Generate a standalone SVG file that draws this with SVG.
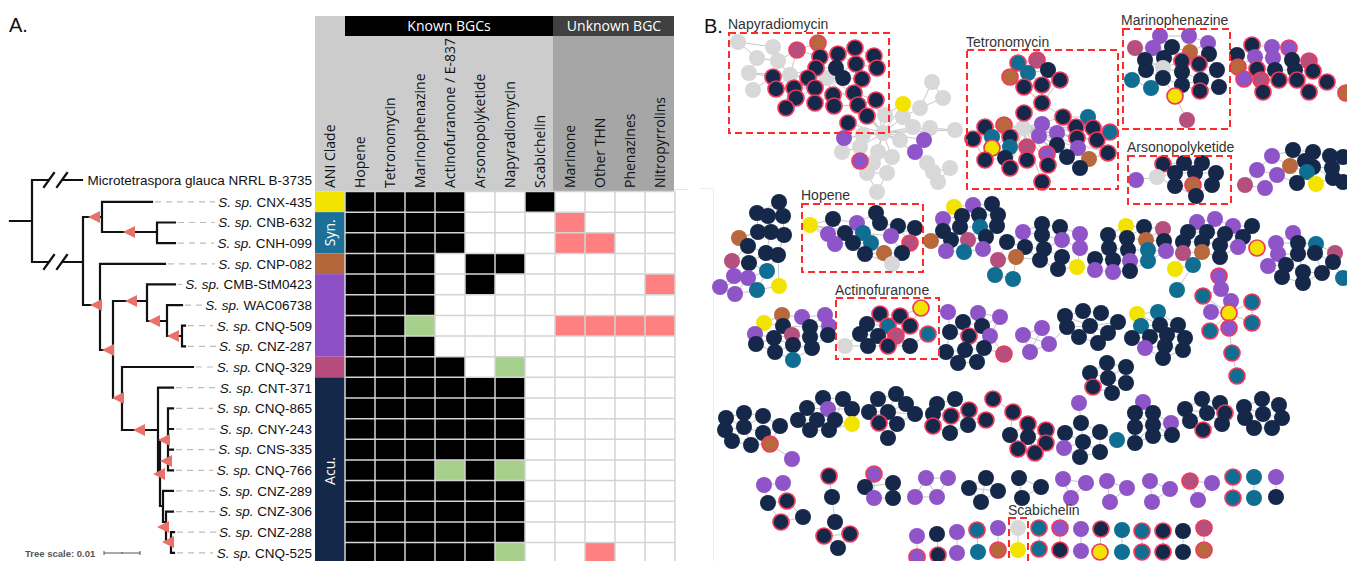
<svg xmlns="http://www.w3.org/2000/svg" xmlns:xlink="http://www.w3.org/1999/xlink" width="1347" height="561" viewBox="0 0 1347 561">
<style>
.tl{fill:none;stroke:#111;stroke-width:2.2;stroke-linecap:square}
.ds{fill:none;stroke:#bdbdbd;stroke-width:1.2;stroke-dasharray:6 5}
.lb{font-family:"Liberation Sans",Arial,sans-serif;font-size:13.5px;fill:#111}
.hd{font-family:"Open Sans","Liberation Sans",sans-serif;font-size:14px;fill:#111}
.hw{font-family:"Open Sans","Liberation Sans",sans-serif;font-size:14px;fill:#fff}
.pl{font-family:"Liberation Sans",Arial,sans-serif;font-size:20px;fill:#111}
.bl{font-family:"Liberation Sans",Arial,sans-serif;font-size:14px;fill:#333}
.box{fill:none;stroke:#ff2a2a;stroke-width:2;stroke-dasharray:7 4}
.ed{fill:none;stroke:#c6c6c6;stroke-width:1}
.tri{fill:#e8726b}
.N{fill:#15284a}.P{fill:#8f55c8}.T{fill:#0f6e92}.Y{fill:#f3e400}.B{fill:#b8683c}.M{fill:#b54f7e}.G{fill:#d8d8d8}
.r{stroke:#ef3b5d;stroke-width:1.7}
</style>
<defs>
<path id="tri" d="M0,0 L12,-6 L12,6 Z"/>
</defs>
<rect width="1347" height="561" fill="#fff"/>

<g id="panelA-label"><text class="pl" x="9" y="32">A.</text></g>

<g id="header">
<rect x="315" y="16" width="238" height="175.5" fill="#cccccc"/>
<rect x="553" y="16" width="121" height="175.5" fill="#a6a6a6"/>
<rect x="345" y="16" width="208" height="20" fill="#000"/>
<rect x="553" y="16" width="121" height="20" fill="#404040"/>
<text class="hw" x="449" y="31" text-anchor="middle">Known BGCs</text>
<text class="hw" x="614" y="31" text-anchor="middle">Unknown BGC</text>
<g class="hd">
<text transform="translate(335,188) rotate(-90)">ANI Clade</text>
<text transform="translate(365,188) rotate(-90)">Hopene</text>
<text transform="translate(395,188) rotate(-90)">Tetronomycin</text>
<text transform="translate(425,188) rotate(-90)">Marinophenazine</text>
<text transform="translate(455,188) rotate(-90)">Actinofuranone / E-837</text>
<text transform="translate(485,188) rotate(-90)">Arsonopolyketide</text>
<text transform="translate(515,188) rotate(-90)">Napyradiomycin</text>
<text transform="translate(545,188) rotate(-90)">Scabichelin</text>
<text transform="translate(575,188) rotate(-90)">Marinone</text>
<text transform="translate(605,188) rotate(-90)">Other THN</text>
<text transform="translate(635,188) rotate(-90)">Phenazines</text>
<text transform="translate(665,188) rotate(-90)">Nitropyrrolins</text>
</g>
<line x1="674" y1="189.5" x2="688" y2="189.5" stroke="#e4e4e4" stroke-width="1"/>
</g>

<g id="clades">
<rect x="315" y="191.5" width="30" height="20.65" fill="#f2e400"/>
<rect x="315" y="212.15" width="30" height="41.3" fill="#1c6f96"/>
<rect x="315" y="253.45" width="30" height="20.65" fill="#b5663a"/>
<rect x="315" y="274.1" width="30" height="82.6" fill="#8c50c4"/>
<rect x="315" y="356.7" width="30" height="20.65" fill="#b54c7b"/>
<rect x="315" y="377.35" width="30" height="186" fill="#14294a"/>
<text class="hw" transform="translate(335,232.8) rotate(-90)" text-anchor="middle">Syn.</text>
<text class="hw" transform="translate(335,471) rotate(-90)" text-anchor="middle">Acu.</text>
</g>

<g id="grid">
<rect x="345" y="191.5" width="330" height="372" fill="#fff"/>
<g fill="#000">
<rect x="345" y="191.5" width="120" height="61.95"/>
<rect x="525" y="191.5" width="30" height="20.65"/>
<rect x="345" y="253.45" width="90" height="61.95"/>
<rect x="465" y="253.45" width="60" height="20.65"/>
<rect x="465" y="274.1" width="30" height="20.65"/>
<rect x="345" y="315.4" width="60" height="20.65"/>
<rect x="345" y="336.05" width="90" height="20.65"/>
<rect x="345" y="356.7" width="120" height="20.65"/>
<rect x="345" y="377.35" width="180" height="82.6"/>
<rect x="345" y="459.95" width="90" height="20.65"/>
<rect x="465" y="459.95" width="30" height="20.65"/>
<rect x="345" y="480.6" width="180" height="61.95"/>
<rect x="345" y="542.55" width="150" height="20.65"/>
</g>
<g fill="#a7d08c">
<rect x="405" y="315.4" width="30" height="20.65"/>
<rect x="495" y="356.7" width="30" height="20.65"/>
<rect x="435" y="459.95" width="30" height="20.65"/>
<rect x="495" y="459.95" width="30" height="20.65"/>
<rect x="495" y="542.55" width="30" height="20.65"/>
</g>
<g fill="#ff8080">
<rect x="555" y="212.15" width="30" height="20.65"/>
<rect x="555" y="232.8" width="60" height="20.65"/>
<rect x="645" y="274.1" width="30" height="20.65"/>
<rect x="555" y="315.4" width="120" height="20.65"/>
<rect x="585" y="542.55" width="30" height="20.65"/>
</g>
<path fill="none" stroke="#d4d4d4" stroke-width="1.5" d="M345,191.5V563M375,191.5V563M405,191.5V563M435,191.5V563M465,191.5V563M495,191.5V563M525,191.5V563M555,191.5V563M585,191.5V563M615,191.5V563M645,191.5V563M675,191.5V563
M345,191.5H675M345,212.15H675M345,232.8H675M345,253.45H675M345,274.1H675M345,294.75H675M345,315.4H675M345,336.05H675M345,356.7H675M345,377.35H675M345,398H675M345,418.65H675M345,439.3H675M345,459.95H675M345,480.6H675M345,501.25H675M345,521.9H675M345,542.55H675"/>
</g>

<g id="tree">
<path class="tl" d="M10,221H32M32,180V262M32,180H49M62,180H82M32,262H49M62,262H83
M44,187L54,173M57,187L67,173M44,269L54,255M57,269L67,255
M83,217V305M83,217H102M102,201.8V232M102,201.8H152M102,232H157M157,222.5V243.1M157,222.5H175M157,243.1H175
M83,305H100M100,263.8V350M100,263.8H165M100,350H113M113,301V398M113,301H147M147,284.4V321M147,284.4H175M147,321H167M167,305.1V336M167,305.1H182M167,336H182M182,325.7V346.4M182,325.7H185M182,346.4H185
M113,398H122M122,367V430M122,367H193M122,430H158M158,387.7V473M158,387.7H173M158,473H160M160,440V506M160,440H168M168,408.3V470.3M168,408.3H173M168,429H173M168,449.6H173M168,470.3H173
M160,506H163M163,490.9V522M163,490.9H173M163,522H166M166,511.6V542M166,511.6H173M166,542H171M171,532.2V552.9M171,532.2H174M171,552.9H174"/>
<g class="tri">
<use xlink:href="#tri" x="88" y="217"/>
<use xlink:href="#tri" x="123" y="232"/>
<use xlink:href="#tri" x="90" y="305"/>
<use xlink:href="#tri" x="102" y="350"/>
<use xlink:href="#tri" x="125" y="301"/>
<use xlink:href="#tri" x="148" y="321"/>
<use xlink:href="#tri" x="167" y="336"/>
<use xlink:href="#tri" x="112" y="398"/>
<use xlink:href="#tri" x="133" y="430"/>
<use xlink:href="#tri" x="158" y="440"/>
<use xlink:href="#tri" x="160" y="461"/>
<use xlink:href="#tri" x="153" y="474"/>
<use xlink:href="#tri" x="157" y="527"/>
<use xlink:href="#tri" x="162" y="542"/>
</g>
<path class="ds" d="M155,201.8H215M178,222.5H215M178,243.1H214M168,263.8H215M178,284.4H182M185,305.1H202M188,325.7H213M188,346.4H216M196,367H213M176,387.7H216M176,408.3H213M176,429H215M176,449.6H215M176,470.3H213M176,490.9H216M176,511.6H216M177,532.2H216M177,552.9H213"/>
<g class="lb" text-anchor="end">
<text x="312" y="184.8">Microtetraspora glauca NRRL B-3735</text>
<text x="312" y="206.6"><tspan font-style="italic">S. sp.</tspan> CNX-435</text>
<text x="312" y="227.3"><tspan font-style="italic">S. sp.</tspan> CNB-632</text>
<text x="312" y="247.9"><tspan font-style="italic">S. sp.</tspan> CNH-099</text>
<text x="312" y="268.6"><tspan font-style="italic">S. sp.</tspan> CNP-082</text>
<text x="312" y="289.2"><tspan font-style="italic">S. sp.</tspan> CMB-StM0423</text>
<text x="312" y="309.9"><tspan font-style="italic">S. sp.</tspan> WAC06738</text>
<text x="312" y="330.5"><tspan font-style="italic">S. sp.</tspan> CNQ-509</text>
<text x="312" y="351.2"><tspan font-style="italic">S. sp.</tspan> CNZ-287</text>
<text x="312" y="371.8"><tspan font-style="italic">S. sp.</tspan> CNQ-329</text>
<text x="312" y="392.5"><tspan font-style="italic">S. sp.</tspan> CNT-371</text>
<text x="312" y="413.1"><tspan font-style="italic">S. sp.</tspan> CNQ-865</text>
<text x="312" y="433.8"><tspan font-style="italic">S. sp.</tspan> CNY-243</text>
<text x="312" y="454.4"><tspan font-style="italic">S. sp.</tspan> CNS-335</text>
<text x="312" y="475.1"><tspan font-style="italic">S. sp.</tspan> CNQ-766</text>
<text x="312" y="495.7"><tspan font-style="italic">S. sp.</tspan> CNZ-289</text>
<text x="312" y="516.4"><tspan font-style="italic">S. sp.</tspan> CNZ-306</text>
<text x="312" y="537"><tspan font-style="italic">S. sp.</tspan> CNZ-288</text>
<text x="312" y="557.7"><tspan font-style="italic">S. sp.</tspan> CNQ-525</text>
</g>
<text x="25" y="556.5" font-family="Liberation Sans, Arial, sans-serif" font-size="9.5" font-weight="bold" fill="#555">Tree scale: 0.01</text>
<path d="M104,553H140M104,551V555M140,551V555M122,552V554" stroke="#555" stroke-width="1" fill="none"/>
</g>

<g id="panelB-label"><text class="pl" x="704" y="33">B.</text></g>
<path d="M700,188.5H713.5V561" fill="none" stroke="#ececec" stroke-width="1"/>

<g id="connectors">
<path class="ed" d="M738,42L757,58L778,61L773,47L738,42M757,58L749,73L773,77M753,90L773,77M778,61L797,50L818,43L820,57L797,50M790,75L773,77M790,75L776,89M790,75L794,88M790,75L808,78M790,75L816,68M790,75L778,61M790,75L797,50M790,75L749,73M790,75L786,108M790,75L796,98M827,78L816,68M827,78L836,68M827,78L843,78M827,78L808,78M827,78L815,88M827,78L833,95M827,78L820,57M827,78L838,54M827,78L856,64M827,78L862,79M827,78L854,93M827,78L815,103M827,78L794,88M827,78L834,106M838,54L855,48L874,56L877,68L856,64L838,54M856,64L862,79L877,68M862,79L854,93L876,100L858,105L854,93M833,95L854,93M815,103L833,95L834,106L858,105M796,98L815,88M786,108L796,98M808,78L820,57M816,68L836,68M843,78L862,79M855,48L856,64M874,56L856,64M776,89L794,88L808,78L815,88L794,88M773,77L776,89M815,103L815,88"/>
<path class="ed" d="M883,133L885,115M883,133L903,117M883,133L903,104M883,133L913,127M883,133L930,128M883,133L900,140M883,133L907,143M883,133L863,135M883,133L860,147M883,133L844,138M883,133L878,152M883,133L892,157M883,133L873,163M883,133L915,152M883,133L924,140M883,133L867,116M883,133L848,123M883,133L858,105M883,133L876,100M883,133L827,78M883,133L843,78M883,133L955,130M903,117L920,108L932,82L943,98L920,108M930,128L955,130M842,152L860,147M842,152L844,138M873,163L867,173L887,173L877,192L867,173M892,157L887,173M915,152L927,163L933,172L950,168L938,182L933,172M860,161L873,163M860,161L860,147M885,115L903,104"/>
<path class="ed" d="M1023,128L1024,113M1023,128L1042,124M1023,128L1039,136M1023,128L1057,133M1023,128L1063,117M1023,128L1076,127M1023,128L1093,128M1023,128L1077,138M1023,128L1097,140M1023,128L1110,132M1023,128L1057,145M1023,128L1078,148M1023,128L1047,154M1023,128L1067,157M1023,128L1089,159M1023,128L1080,168M1023,128L1108,153M1023,128L1048,165M1023,128L1042,182M1023,128L1027,160M1023,128L1010,168M1023,128L1005,158M1023,128L985,160M1023,128L1010,147M1023,128L1010,137M1023,128L992,137M1023,128L985,127M1023,128L1004,125M1023,128L973,139M1023,128L992,148M1023,128L1027,147
M1018,63L1037,60L1048,70L1060,80L1042,85L1024,87L1010,77L1018,63L1028,73L1048,70M1028,73L1042,85M1028,73L1024,87M1037,60L1028,73M1042,85L1042,103L1024,113M1042,103L1063,117M1042,103L1024,87M1060,80L1042,103M1063,117L1088,117L1076,127L1093,128L1110,132L1097,140L1077,138L1078,148L1089,159L1108,153M1057,133L1077,138M1057,145L1067,157L1080,168M1088,117L1110,132M985,127L1004,125L992,137L973,139L985,160L1005,158L1010,168"/>
<path class="ed" d="M1160,36L1189,36L1208,43L1209,54L1217,70L1219,87L1200,91L1201,80L1182,85L1163,78L1146,70L1145,60L1135,48L1153,48L1160,36L1172,47L1164,58L1182,61L1199,64L1209,54M1153,48L1164,58L1146,70M1172,47L1190,52L1189,36M1190,52L1182,61L1182,72L1163,68L1145,60M1199,64L1217,70L1201,80L1182,72M1163,68L1163,78M1132,80L1151,88L1163,78M1132,80L1146,70M1175,96L1163,78M1175,96L1187,120M1175,96L1182,85M1200,91L1182,85M1208,43L1190,52M1160,36L1163,68L1182,61"/>
<path class="ed" d="M1252,45L1272,47L1289,48L1292,60L1309,61L1313,71L1327,82L1346,93M1237,55L1252,45L1255,57L1273,58L1272,47M1237,55L1238,67L1257,69L1275,70L1295,70L1313,71M1255,57L1257,69L1244,79L1261,80L1279,80L1297,80L1309,92M1273,58L1275,70L1261,80L1263,92L1279,80M1292,60L1295,70L1279,80M1289,48L1273,58M1238,67L1244,79M1297,80L1313,71M1309,61L1295,70M1255,57L1238,67M1327,82L1309,92"/>
<path class="ed" d="M1136,180L1157,177L1163,164L1184,163L1202,163L1216,173L1212,185L1196,196L1175,186L1157,177L1175,173L1195,173L1216,173M1163,164L1175,173L1184,163L1195,173L1202,163M1175,173L1175,186L1193,185L1195,173L1212,185M1193,185L1196,196"/>
<path class="ed" d="M1245,185L1257,170L1272,156L1293,150L1313,152L1330,156L1343,157M1245,185L1265,188L1277,175L1257,170M1272,156L1290,166L1305,161L1293,150M1277,175L1290,166L1313,167L1332,168L1343,182M1305,161L1313,152M1297,183L1307,172L1316,184L1333,178L1343,157M1277,175L1297,183M1290,166L1307,172L1313,167M1330,156L1332,168L1333,178M1313,167L1333,178"/>
<path class="ed" d="M779,202L757,213L783,216L768,216L779,202M757,213L758,232L771,232L784,235L783,216M768,216L771,232M758,232L739,238L748,246L766,253L778,255L784,235M771,232L766,253M748,246L732,261L749,263L767,271L778,255M749,263L766,253M732,261L734,276L748,278L749,263M734,276L720,287L735,294L748,278L767,271M735,294L757,290L779,286L778,255M757,290L767,271M720,287L748,278M739,238L758,232"/>
<path class="ed" d="M810,225L833,219L857,223L876,213L880,223L898,226L915,228L910,243L902,253L884,253L865,254L853,243L835,244L828,234L810,225M810,225L845,233L863,233L891,236L915,228M833,219L845,233L853,243L871,243L884,253M857,223L863,233L871,243M880,223L891,236L902,253M898,226L910,243M828,234L845,233M865,254L871,243M892,264L884,253M892,264L865,254M810,225L863,233M810,225L835,244"/>
<path class="ed" d="M954,207L973,205L992,204L998,215L997,226L986,237L983,249L964,252L946,251L931,241L943,231L943,219L954,207M962,216L979,215L998,215M954,207L962,216L960,227L951,240L946,251M973,205L979,215L980,227L968,240L964,252M992,204L979,215M943,219L962,216M943,231L960,227L980,227L997,226M951,240L968,240L986,237M980,227L986,237M960,227L968,240"/>
<path class="ed" d="M1023,232L1042,224L1060,227L1080,234L1080,248L1077,267L1058,269L1040,260L1025,247L1007,242L1023,232L1042,235L1062,240L1080,248M1042,224L1042,235L1044,249L1062,257L1058,269M1060,227L1062,240L1062,257L1077,267M1025,247L1044,249L1040,260M1007,242L998,260L1016,257L1025,247M998,260L995,275L1013,279L1016,257M1040,260L1016,257M1062,240L1044,249"/>
<path class="ed" d="M1126,226L1144,227L1163,229L1164,241L1166,251L1148,261L1130,271L1113,272L1095,270L1095,259L1109,248L1108,235L1126,226M1108,235L1127,238L1146,240L1164,241M1144,227L1127,238L1128,250L1109,248M1163,229L1146,240L1148,250L1166,251M1128,250L1148,250L1148,261M1095,259L1113,260L1130,261L1148,261M1113,260L1128,250L1130,261M1113,272L1113,260M1130,271L1130,261M1126,226L1127,238"/>
<path class="ed" d="M1197,222L1215,219L1233,226L1252,226L1243,237L1238,247L1220,257L1202,252L1183,253L1183,242L1188,232L1197,222M1188,232L1207,232L1225,234L1243,237M1197,222L1207,232L1202,242L1183,242M1215,219L1225,234L1220,245L1202,242M1233,226L1225,234M1220,245L1238,247M1202,242L1202,252L1220,257L1220,245M1175,269L1183,253M1175,269L1193,265L1202,252M1193,265L1177,290M1207,232L1220,245"/>
<path class="ed" d="M1293,233L1276,243L1278,254L1268,266L1282,277L1303,283L1322,273L1333,262L1343,278M1293,233L1298,243L1316,244L1335,253L1333,262M1276,243L1298,243L1298,254L1315,253L1316,244M1278,254L1298,254L1286,265L1268,266M1286,265L1303,272L1322,273L1315,253M1282,277L1286,265M1303,272L1303,283M1298,254L1303,272M1315,253L1333,262"/>
<path class="ed" d="M1219,276L1221,289L1203,296M1221,289L1231,301L1229,313M1203,296L1211,312L1229,313L1252,302L1252,323L1229,313L1210,331L1229,328L1229,313M1203,296L1229,313M1229,328L1232,353L1237,376"/>
<path class="ed" d="M764,323L782,315L802,317L825,315L829,326L828,335L812,348L793,360L775,352L756,344L755,334L764,323M764,323L783,326L810,327L829,326M782,315L783,326L774,338L756,344M802,317L810,327L810,337L812,348M825,315L810,327M755,334L774,338L792,335L810,337L828,335M783,326L792,335L793,345L775,352M774,338L793,345L812,348M793,345L793,360"/>
<path class="ed" d="M921,308L900,316L880,314L867,324L860,334L845,346L868,346L888,346L910,346L928,334L910,326L921,308M880,314L888,326L900,316L910,326M867,324L888,326L878,336L860,334M888,326L896,336L910,326M878,336L896,336L910,346M868,346L878,336L888,346L896,336M928,334L910,346"/>
<path class="ed" d="M948,312L963,322L978,313L1000,317L990,336L1004,354L984,348L977,362L958,363L946,352L950,332L948,312M963,322L982,326L978,313M950,332L969,336L963,322M982,326L990,336L984,348L969,336L965,350L946,352M965,350L958,363M965,350L984,348M1000,317L982,326M977,362L965,350"/>
<path class="ed" d="M1023,335L1042,328L1049,344L1030,352L1023,335L1049,344M1042,328L1030,352M1049,344L1067,327"/>
<path class="ed" d="M1065,316L1083,311L1101,313L1118,322L1108,333L1098,343L1079,337L1067,327L1065,316M1067,327L1090,326L1101,313M1083,311L1090,326L1108,333M1079,337L1090,326L1098,343M1065,316L1090,326L1118,322"/>
<path class="ed" d="M1137,314L1158,312L1178,325L1185,338L1183,350L1163,358L1145,348L1132,338L1141,326L1137,314M1141,326L1160,325L1158,312M1160,325L1178,325M1132,338L1150,337L1167,335L1185,338M1141,326L1150,337L1145,348L1165,346L1183,350M1160,325L1167,335L1165,346L1163,358M1150,337L1165,346M1137,314L1160,325"/>
<path class="ed" d="M1107,363L1126,367L1126,383L1112,393L1093,387L1090,373L1107,363L1108,378L1126,367M1090,373L1108,378L1126,383M1108,378L1112,393M1108,378L1093,387"/>
<path class="ed" d="M726,418L744,413L763,416L780,426L770,444L751,445L732,441L725,430L726,418M725,430L744,427L763,433L780,426M744,413L744,427L751,445M763,416L763,433L770,444M726,418L744,427L763,416M732,441L744,427M763,433L751,445M770,444L792,459"/>
<path class="ed" d="M823,398L843,399L852,409L852,424L829,430L810,430L798,420L807,408L823,398M807,408L828,409L852,409M798,420L817,420L835,420L852,424M823,398L828,409L817,420L810,430M843,399L835,420L829,430M828,409L835,420M817,420L829,430"/>
<path class="ed" d="M878,399L896,394L906,404L915,414L897,424L888,438L879,423L869,412L878,399M869,412L888,412L906,404M878,399L888,412L897,424M896,394L888,412L879,423M915,414L888,412M879,423L897,424"/>
<path class="ed" d="M937,404L955,399L969,410L986,420L968,425L950,433L933,426L933,414L937,404M933,414L951,416L969,410M937,404L951,416L950,433M955,399L951,416L968,425M933,426L951,416L986,420M969,410L968,425"/>
<path class="ed" d="M993,399L1013,412L1028,424L1046,430L1046,443L1035,453L1018,449L1010,435L1013,412M1010,435L1028,424L1028,437L1046,430M1028,437L1018,449M1028,437L1035,453M1028,437L1046,443M1010,435L1028,437"/>
<path class="ed" d="M1079,403L1081,423L1065,433L1064,448L1080,457L1100,452L1100,432L1081,423M1065,433L1083,442L1100,432L1117,440M1081,423L1083,442L1080,457M1064,448L1083,442L1100,452"/>
<path class="ed" d="M1143,402L1135,413L1153,413L1143,402M1135,413L1135,427L1135,443L1153,436L1172,435L1171,423L1153,413L1153,425L1135,427M1153,425L1153,436M1153,425L1171,423M1135,413L1153,425L1172,435M1135,443L1153,425"/>
<path class="ed" d="M1202,399L1220,403L1225,413L1222,424L1203,430L1190,421L1185,409L1202,399M1185,409L1207,413L1225,413M1202,399L1207,413L1203,430M1220,403L1207,413L1190,421M1207,413L1222,424"/>
<path class="ed" d="M1262,399L1279,405L1282,418L1272,428L1254,428L1245,418L1244,407L1262,399M1244,407L1263,414L1279,405M1262,399L1263,414L1272,428M1245,418L1263,414L1282,418M1254,428L1263,414"/>
<path class="ed" d="M764,485L783,483L787,501L768,503L764,485M787,501L803,517L781,522L768,503M829,476L832,497L835,522L824,536L838,548L850,534L835,522M824,536L850,534M874,474L865,487L874,498L893,498L893,483L874,474L874,498M865,487L893,483M926,478L948,478L937,497L915,497L926,478L937,497M986,478L969,488L981,502L998,491L986,478L981,502M969,488L998,491M1019,478L1041,487L1022,498L1019,478M1063,479L1086,483L1071,498L1063,479M1107,481L1127,488L1110,502L1107,481M1150,481L1170,489L1152,502L1150,481M1190,481L1212,483L1198,500L1190,481M1233,477V498M1254,477V498M1276,477V497"/>
<path class="ed" d="M917,536V557M937,534L938,555M957,532V553M977,530L978,552M998,528V550M1018,528V550M1039,528V549M1060,528V550M1081,529V551M1101,529L1100,552M1122,530V552M1142,531V552M1163,531V552M1183,531V552M1204,528V550"/>
</g>

<g id="cluster-napyradiomycin">
<circle cx="738" cy="42" r="8" class="G"/><circle cx="773" cy="47" r="8" class="G"/><circle cx="757" cy="58" r="8" class="G"/><circle cx="778" cy="61" r="8" class="G"/><circle cx="749" cy="73" r="8" class="G"/><circle cx="753" cy="90" r="8" class="G"/><circle cx="790" cy="75" r="8" class="G"/><circle cx="827" cy="78" r="8" class="G"/>
<circle cx="797" cy="50" r="8" class="M r"/><circle cx="818" cy="43" r="8" class="B r"/>
<circle cx="820" cy="57" r="8" class="N r"/><circle cx="838" cy="54" r="8" class="N r"/><circle cx="855" cy="48" r="8" class="N r"/><circle cx="874" cy="56" r="8" class="N r"/><circle cx="877" cy="68" r="8" class="N r"/><circle cx="856" cy="64" r="8" class="N r"/><circle cx="816" cy="68" r="8" class="N r"/><circle cx="773" cy="77" r="8" class="N r"/><circle cx="776" cy="89" r="8" class="N r"/><circle cx="794" cy="88" r="8" class="N r"/><circle cx="808" cy="78" r="8" class="N r"/><circle cx="815" cy="88" r="8" class="N r"/><circle cx="796" cy="98" r="8" class="N r"/><circle cx="786" cy="108" r="8" class="N r"/><circle cx="815" cy="103" r="8" class="N r"/><circle cx="833" cy="95" r="8" class="N r"/><circle cx="834" cy="106" r="8" class="N r"/><circle cx="854" cy="93" r="8" class="N r"/><circle cx="858" cy="105" r="8" class="N r"/><circle cx="862" cy="79" r="8" class="N r"/><circle cx="876" cy="100" r="8" class="N r"/><circle cx="867" cy="116" r="8" class="N r"/><circle cx="848" cy="123" r="8" class="N r"/>
<circle cx="836" cy="68" r="8" class="N"/><circle cx="843" cy="78" r="8" class="N"/>
</g>
<g id="cluster-hub">
<circle cx="883" cy="133" r="8" class="G"/><circle cx="885" cy="115" r="8" class="G"/><circle cx="903" cy="117" r="8" class="G"/><circle cx="920" cy="108" r="8" class="G"/><circle cx="932" cy="82" r="8" class="G"/><circle cx="943" cy="98" r="8" class="G"/><circle cx="930" cy="128" r="8" class="G"/><circle cx="955" cy="130" r="8" class="G"/><circle cx="913" cy="127" r="8" class="G"/><circle cx="863" cy="135" r="8" class="G"/><circle cx="860" cy="147" r="8" class="G"/><circle cx="842" cy="152" r="8" class="G"/><circle cx="878" cy="152" r="8" class="G"/><circle cx="892" cy="157" r="8" class="G"/><circle cx="873" cy="163" r="8" class="G"/><circle cx="867" cy="173" r="8" class="G"/><circle cx="887" cy="173" r="8" class="G"/><circle cx="877" cy="192" r="8" class="G"/><circle cx="927" cy="163" r="8" class="G"/><circle cx="933" cy="172" r="8" class="G"/><circle cx="950" cy="168" r="8" class="G"/><circle cx="938" cy="182" r="8" class="G"/><circle cx="900" cy="140" r="8" class="G"/>
<circle cx="844" cy="138" r="8" class="P"/><circle cx="924" cy="140" r="8" class="P"/><circle cx="915" cy="152" r="8" class="P"/><circle cx="860" cy="161" r="8" class="P r"/>
<circle cx="903" cy="104" r="8" class="Y"/>
</g>
<g id="cluster-tetronomycin">
<circle cx="1018" cy="63" r="8" class="T r"/><circle cx="1037" cy="60" r="8" class="M r"/><circle cx="1028" cy="73" r="8" class="T"/><circle cx="1048" cy="70" r="8" class="N"/><circle cx="1060" cy="80" r="8" class="N r"/><circle cx="1010" cy="77" r="8" class="B r"/><circle cx="1024" cy="87" r="8" class="N r"/><circle cx="1042" cy="85" r="8" class="N r"/><circle cx="1042" cy="103" r="8" class="N r"/>
<circle cx="1023" cy="128" r="8" class="G"/>
<circle cx="1024" cy="113" r="8" class="N r"/><circle cx="1063" cy="117" r="8" class="N r"/><circle cx="1088" cy="117" r="8" class="T"/><circle cx="1042" cy="124" r="8" class="P"/><circle cx="1076" cy="127" r="8" class="N r"/><circle cx="1093" cy="128" r="8" class="N r"/><circle cx="1039" cy="136" r="8" class="P"/><circle cx="1057" cy="133" r="8" class="P"/><circle cx="1077" cy="138" r="8" class="N r"/><circle cx="1097" cy="140" r="8" class="N r"/><circle cx="1110" cy="132" r="8" class="T r"/><circle cx="1057" cy="145" r="8" class="N"/><circle cx="1078" cy="148" r="8" class="P"/><circle cx="1027" cy="147" r="8" class="M r"/><circle cx="1047" cy="154" r="8" class="P r"/><circle cx="1067" cy="157" r="8" class="N"/><circle cx="1089" cy="159" r="8" class="B"/><circle cx="1027" cy="160" r="8" class="N r"/><circle cx="1048" cy="165" r="8" class="N r"/><circle cx="1108" cy="153" r="8" class="N r"/><circle cx="1080" cy="168" r="8" class="N"/><circle cx="1042" cy="182" r="8" class="N r"/>
<circle cx="985" cy="127" r="8" class="N r"/><circle cx="1004" cy="125" r="8" class="B r"/><circle cx="973" cy="139" r="8" class="N r"/><circle cx="992" cy="137" r="8" class="T"/><circle cx="1010" cy="137" r="8" class="N r"/><circle cx="992" cy="148" r="8" class="Y r"/><circle cx="1010" cy="147" r="8" class="T"/><circle cx="985" cy="160" r="8" class="N r"/><circle cx="1005" cy="158" r="8" class="N"/><circle cx="1010" cy="168" r="8" class="N r"/>
</g>
<g id="cluster-marinophenazine">
<circle cx="1160" cy="36" r="8" class="P"/><circle cx="1189" cy="36" r="8" class="P"/><circle cx="1135" cy="48" r="8" class="M"/><circle cx="1153" cy="48" r="8" class="P"/><circle cx="1172" cy="47" r="8" class="N"/><circle cx="1208" cy="43" r="8" class="P"/><circle cx="1190" cy="52" r="8" class="B"/><circle cx="1209" cy="54" r="8" class="N"/><circle cx="1145" cy="60" r="8" class="N"/><circle cx="1164" cy="58" r="8" class="N"/><circle cx="1182" cy="61" r="8" class="N r"/><circle cx="1199" cy="64" r="8" class="N r"/><circle cx="1146" cy="70" r="8" class="N"/><circle cx="1163" cy="68" r="8" class="G"/><circle cx="1182" cy="72" r="8" class="N"/><circle cx="1217" cy="70" r="8" class="N"/><circle cx="1163" cy="78" r="8" class="N"/><circle cx="1201" cy="80" r="8" class="N"/><circle cx="1132" cy="80" r="8" class="T"/><circle cx="1182" cy="85" r="8" class="N"/><circle cx="1200" cy="91" r="8" class="N r"/><circle cx="1219" cy="87" r="8" class="N"/><circle cx="1151" cy="88" r="8" class="T"/><circle cx="1175" cy="96" r="8" class="Y r"/><circle cx="1187" cy="120" r="8" class="M"/>
</g>
<g id="cluster-rt">
<circle cx="1252" cy="45" r="8" class="N r"/><circle cx="1272" cy="47" r="8" class="P"/><circle cx="1289" cy="48" r="8" class="P r"/><circle cx="1237" cy="55" r="8" class="N"/><circle cx="1255" cy="57" r="8" class="P"/><circle cx="1273" cy="58" r="8" class="P"/><circle cx="1292" cy="60" r="8" class="N"/><circle cx="1309" cy="61" r="8" class="M r"/><circle cx="1238" cy="67" r="8" class="B r"/><circle cx="1257" cy="69" r="8" class="N r"/><circle cx="1275" cy="70" r="8" class="N"/><circle cx="1295" cy="70" r="8" class="N"/><circle cx="1313" cy="71" r="8" class="N r"/><circle cx="1244" cy="79" r="8" class="P r"/><circle cx="1261" cy="80" r="8" class="M r"/><circle cx="1279" cy="80" r="8" class="N r"/><circle cx="1297" cy="80" r="8" class="N r"/><circle cx="1327" cy="82" r="8" class="N r"/><circle cx="1263" cy="92" r="8" class="N r"/><circle cx="1309" cy="92" r="8" class="N r"/><circle cx="1346" cy="93" r="8" class="B r"/>
</g>
<g id="cluster-arsonopolyketide">
<circle cx="1163" cy="164" r="8" class="N r"/><circle cx="1184" cy="163" r="8" class="N"/><circle cx="1202" cy="163" r="8" class="N"/><circle cx="1136" cy="180" r="8" class="P"/><circle cx="1157" cy="177" r="8" class="G"/><circle cx="1175" cy="173" r="8" class="N"/><circle cx="1195" cy="173" r="8" class="N"/><circle cx="1216" cy="173" r="8" class="N"/><circle cx="1175" cy="186" r="8" class="N"/><circle cx="1193" cy="185" r="8" class="B r"/><circle cx="1212" cy="185" r="8" class="N"/><circle cx="1196" cy="196" r="8" class="N"/>
</g>
<g id="cluster-rm">
<circle cx="1293" cy="150" r="8" class="N"/><circle cx="1313" cy="152" r="8" class="N"/><circle cx="1272" cy="156" r="8" class="P"/><circle cx="1330" cy="156" r="8" class="N"/><circle cx="1305" cy="161" r="8" class="N"/><circle cx="1343" cy="157" r="8" class="N"/><circle cx="1257" cy="170" r="8" class="P"/><circle cx="1290" cy="166" r="8" class="B"/><circle cx="1313" cy="167" r="8" class="N"/><circle cx="1332" cy="168" r="8" class="N"/><circle cx="1277" cy="175" r="8" class="P"/><circle cx="1307" cy="172" r="8" class="T"/><circle cx="1297" cy="183" r="8" class="N"/><circle cx="1316" cy="184" r="8" class="Y"/><circle cx="1333" cy="178" r="8" class="N"/><circle cx="1245" cy="185" r="8" class="M"/><circle cx="1265" cy="188" r="8" class="P"/><circle cx="1343" cy="182" r="8" class="N"/>
</g>
<g id="cluster-l1">
<circle cx="779" cy="202" r="8" class="N"/><circle cx="757" cy="213" r="8" class="N"/><circle cx="768" cy="216" r="8" class="N"/><circle cx="783" cy="216" r="8" class="N"/><circle cx="758" cy="232" r="8" class="N"/><circle cx="771" cy="232" r="8" class="N"/><circle cx="784" cy="235" r="8" class="N"/><circle cx="739" cy="238" r="8" class="B"/><circle cx="748" cy="246" r="8" class="N"/><circle cx="766" cy="253" r="8" class="N"/><circle cx="778" cy="255" r="8" class="N"/><circle cx="732" cy="261" r="8" class="M"/><circle cx="749" cy="263" r="8" class="N"/><circle cx="767" cy="271" r="8" class="T"/><circle cx="734" cy="276" r="8" class="P"/><circle cx="748" cy="278" r="8" class="P"/><circle cx="779" cy="286" r="8" class="Y"/><circle cx="720" cy="287" r="8" class="P"/><circle cx="735" cy="294" r="8" class="P"/><circle cx="757" cy="290" r="8" class="T"/>
</g>
<g id="cluster-hopene">
<circle cx="810" cy="225" r="8" class="Y"/><circle cx="833" cy="219" r="8" class="N"/><circle cx="876" cy="213" r="8" class="N"/><circle cx="857" cy="223" r="8" class="P"/><circle cx="880" cy="223" r="8" class="N"/><circle cx="898" cy="226" r="8" class="N"/><circle cx="915" cy="228" r="8" class="N"/><circle cx="828" cy="234" r="8" class="P"/><circle cx="845" cy="233" r="8" class="N"/><circle cx="863" cy="233" r="8" class="T"/><circle cx="891" cy="236" r="8" class="P"/><circle cx="835" cy="244" r="8" class="P"/><circle cx="853" cy="243" r="8" class="N"/><circle cx="871" cy="243" r="8" class="T"/><circle cx="910" cy="243" r="8" class="M r"/><circle cx="865" cy="254" r="8" class="N"/><circle cx="884" cy="253" r="8" class="B"/><circle cx="902" cy="253" r="8" class="N"/><circle cx="892" cy="264" r="8" class="G"/>
</g>
<g id="cluster-h2">
<circle cx="954" cy="207" r="8" class="Y"/><circle cx="973" cy="205" r="8" class="P"/><circle cx="992" cy="204" r="8" class="N"/><circle cx="962" cy="216" r="8" class="N"/><circle cx="979" cy="215" r="8" class="N"/><circle cx="998" cy="215" r="8" class="N"/><circle cx="943" cy="219" r="8" class="P"/><circle cx="960" cy="227" r="8" class="N"/><circle cx="980" cy="227" r="8" class="T"/><circle cx="997" cy="226" r="8" class="N"/><circle cx="943" cy="231" r="8" class="N"/><circle cx="951" cy="240" r="8" class="N"/><circle cx="968" cy="240" r="8" class="M"/><circle cx="986" cy="237" r="8" class="N"/><circle cx="931" cy="241" r="8" class="B"/><circle cx="946" cy="251" r="8" class="P"/><circle cx="964" cy="252" r="8" class="T"/><circle cx="983" cy="249" r="8" class="P"/>
</g>
<g id="cluster-h3">
<circle cx="1023" cy="232" r="8" class="P"/><circle cx="1042" cy="224" r="8" class="N"/><circle cx="1060" cy="227" r="8" class="N"/><circle cx="1042" cy="235" r="8" class="N"/><circle cx="1062" cy="240" r="8" class="P"/><circle cx="1080" cy="234" r="8" class="P"/><circle cx="1007" cy="242" r="8" class="N"/><circle cx="1025" cy="247" r="8" class="N"/><circle cx="1044" cy="249" r="8" class="N"/><circle cx="1080" cy="248" r="8" class="P"/><circle cx="1062" cy="257" r="8" class="N"/><circle cx="1040" cy="260" r="8" class="N"/><circle cx="1077" cy="267" r="8" class="Y"/><circle cx="1058" cy="269" r="8" class="N"/><circle cx="998" cy="260" r="8" class="M"/><circle cx="1016" cy="257" r="8" class="B"/><circle cx="995" cy="275" r="8" class="T"/><circle cx="1013" cy="279" r="8" class="T"/>
</g>
<g id="cluster-h4">
<circle cx="1126" cy="226" r="8" class="Y"/><circle cx="1144" cy="227" r="8" class="N"/><circle cx="1163" cy="229" r="8" class="M"/><circle cx="1108" cy="235" r="8" class="N"/><circle cx="1127" cy="238" r="8" class="N"/><circle cx="1146" cy="240" r="8" class="B"/><circle cx="1164" cy="241" r="8" class="N"/><circle cx="1109" cy="248" r="8" class="N"/><circle cx="1128" cy="250" r="8" class="N"/><circle cx="1148" cy="250" r="8" class="T"/><circle cx="1166" cy="251" r="8" class="P"/><circle cx="1095" cy="259" r="8" class="N"/><circle cx="1113" cy="260" r="8" class="N"/><circle cx="1130" cy="261" r="8" class="P"/><circle cx="1148" cy="261" r="8" class="T"/><circle cx="1095" cy="270" r="8" class="P"/><circle cx="1113" cy="272" r="8" class="P"/><circle cx="1130" cy="271" r="8" class="N"/>
</g>
<g id="cluster-h5">
<circle cx="1197" cy="222" r="8" class="P"/><circle cx="1215" cy="219" r="8" class="P"/><circle cx="1233" cy="226" r="8" class="P"/><circle cx="1252" cy="226" r="8" class="N"/><circle cx="1188" cy="232" r="8" class="N"/><circle cx="1207" cy="232" r="8" class="N"/><circle cx="1225" cy="234" r="8" class="N"/><circle cx="1243" cy="237" r="8" class="N"/><circle cx="1183" cy="242" r="8" class="N"/><circle cx="1202" cy="242" r="8" class="N"/><circle cx="1220" cy="245" r="8" class="N"/><circle cx="1238" cy="247" r="8" class="P"/><circle cx="1183" cy="253" r="8" class="M"/><circle cx="1202" cy="252" r="8" class="B"/><circle cx="1220" cy="257" r="8" class="N"/><circle cx="1175" cy="269" r="8" class="Y"/><circle cx="1193" cy="265" r="8" class="T"/><circle cx="1177" cy="290" r="8" class="T"/>
<circle cx="1257" cy="248" r="8" class="Y r"/>
</g>
<g id="cluster-h6">
<circle cx="1293" cy="233" r="8" class="P"/><circle cx="1276" cy="243" r="8" class="P"/><circle cx="1298" cy="243" r="8" class="N"/><circle cx="1316" cy="244" r="8" class="T"/><circle cx="1335" cy="253" r="8" class="M"/><circle cx="1278" cy="254" r="8" class="P"/><circle cx="1298" cy="254" r="8" class="N"/><circle cx="1315" cy="253" r="8" class="N"/><circle cx="1333" cy="262" r="8" class="N"/><circle cx="1268" cy="266" r="8" class="P"/><circle cx="1286" cy="265" r="8" class="N"/><circle cx="1303" cy="272" r="8" class="N"/><circle cx="1322" cy="273" r="8" class="N"/><circle cx="1282" cy="277" r="8" class="N"/><circle cx="1303" cy="283" r="8" class="N"/><circle cx="1343" cy="278" r="8" class="T"/>
</g>
<g id="cluster-star">
<circle cx="1219" cy="276" r="8" class="P r"/><circle cx="1221" cy="289" r="8" class="P"/><circle cx="1231" cy="301" r="8" class="P"/><circle cx="1203" cy="296" r="8" class="T r"/><circle cx="1211" cy="312" r="8" class="P"/><circle cx="1229" cy="313" r="8" class="Y r"/><circle cx="1252" cy="302" r="8" class="T r"/><circle cx="1252" cy="323" r="8" class="T r"/><circle cx="1210" cy="331" r="8" class="T r"/><circle cx="1229" cy="328" r="8" class="P r"/><circle cx="1232" cy="353" r="8" class="T r"/><circle cx="1237" cy="376" r="8" class="T r"/>
</g>
<g id="cluster-l2">
<circle cx="764" cy="323" r="8" class="Y"/><circle cx="782" cy="315" r="8" class="B"/><circle cx="802" cy="317" r="8" class="P"/><circle cx="825" cy="315" r="8" class="P"/><circle cx="783" cy="326" r="8" class="N"/><circle cx="810" cy="327" r="8" class="N"/><circle cx="829" cy="326" r="8" class="P"/><circle cx="755" cy="334" r="8" class="P"/><circle cx="774" cy="338" r="8" class="N"/><circle cx="792" cy="335" r="8" class="M"/><circle cx="810" cy="337" r="8" class="N"/><circle cx="828" cy="335" r="8" class="N"/><circle cx="756" cy="344" r="8" class="N"/><circle cx="775" cy="352" r="8" class="N"/><circle cx="793" cy="345" r="8" class="N"/><circle cx="812" cy="348" r="8" class="N"/><circle cx="793" cy="360" r="8" class="T"/>
</g>
<g id="cluster-actinofuranone">
<circle cx="921" cy="308" r="8" class="Y r"/><circle cx="880" cy="314" r="8" class="N r"/><circle cx="900" cy="316" r="8" class="N r"/><circle cx="867" cy="324" r="8" class="N"/><circle cx="888" cy="326" r="8" class="T r"/><circle cx="910" cy="326" r="8" class="N r"/><circle cx="860" cy="334" r="8" class="N"/><circle cx="878" cy="336" r="8" class="N"/><circle cx="896" cy="336" r="8" class="M r"/><circle cx="928" cy="334" r="8" class="T r"/><circle cx="845" cy="346" r="8" class="G"/><circle cx="868" cy="346" r="8" class="N"/><circle cx="888" cy="346" r="8" class="N r"/><circle cx="910" cy="346" r="8" class="N"/>
</g>
<g id="cluster-af2">
<circle cx="948" cy="312" r="8" class="P"/><circle cx="978" cy="313" r="8" class="P"/><circle cx="1000" cy="317" r="8" class="P"/><circle cx="963" cy="322" r="8" class="N"/><circle cx="982" cy="326" r="8" class="N"/><circle cx="950" cy="332" r="8" class="N"/><circle cx="969" cy="336" r="8" class="N r"/><circle cx="990" cy="336" r="8" class="P"/><circle cx="946" cy="352" r="8" class="N"/><circle cx="965" cy="350" r="8" class="N"/><circle cx="984" cy="348" r="8" class="N"/><circle cx="1004" cy="354" r="8" class="M r"/><circle cx="958" cy="363" r="8" class="N"/><circle cx="977" cy="362" r="8" class="N"/>
</g>
<g id="cluster-af3">
<circle cx="1023" cy="335" r="8" class="P"/><circle cx="1042" cy="328" r="8" class="P"/><circle cx="1049" cy="344" r="8" class="P"/><circle cx="1030" cy="352" r="8" class="P"/>
<circle cx="1065" cy="316" r="8" class="N"/><circle cx="1083" cy="311" r="8" class="N"/><circle cx="1101" cy="313" r="8" class="N"/><circle cx="1118" cy="322" r="8" class="N"/><circle cx="1067" cy="327" r="8" class="N"/><circle cx="1090" cy="326" r="8" class="N"/><circle cx="1108" cy="333" r="8" class="N"/><circle cx="1079" cy="337" r="8" class="N"/><circle cx="1098" cy="343" r="8" class="N"/>
</g>
<g id="cluster-af5">
<circle cx="1137" cy="314" r="8" class="Y"/><circle cx="1158" cy="312" r="8" class="T"/><circle cx="1141" cy="326" r="8" class="T"/><circle cx="1160" cy="325" r="8" class="N"/><circle cx="1178" cy="325" r="8" class="N"/><circle cx="1132" cy="338" r="8" class="N"/><circle cx="1150" cy="337" r="8" class="N"/><circle cx="1167" cy="335" r="8" class="N"/><circle cx="1185" cy="338" r="8" class="N"/><circle cx="1145" cy="348" r="8" class="P"/><circle cx="1165" cy="346" r="8" class="N"/><circle cx="1183" cy="350" r="8" class="N"/><circle cx="1163" cy="358" r="8" class="N"/>
</g>
<g id="cluster-sn">
<circle cx="1107" cy="363" r="8" class="N"/><circle cx="1126" cy="367" r="8" class="N"/><circle cx="1090" cy="373" r="8" class="N"/><circle cx="1108" cy="378" r="8" class="N"/><circle cx="1126" cy="383" r="8" class="N"/><circle cx="1093" cy="387" r="8" class="N r"/><circle cx="1112" cy="393" r="8" class="N"/>
</g>
<g id="cluster-row3">
<circle cx="726" cy="418" r="8" class="N"/><circle cx="744" cy="413" r="8" class="N"/><circle cx="763" cy="416" r="8" class="N"/><circle cx="725" cy="430" r="8" class="N"/><circle cx="744" cy="427" r="8" class="N"/><circle cx="763" cy="433" r="8" class="N"/><circle cx="780" cy="426" r="8" class="N"/><circle cx="732" cy="441" r="8" class="N"/><circle cx="751" cy="445" r="8" class="N"/><circle cx="770" cy="444" r="8" class="B r"/><circle cx="792" cy="459" r="8" class="P"/>
<circle cx="823" cy="398" r="8" class="N"/><circle cx="843" cy="399" r="8" class="N"/><circle cx="807" cy="408" r="8" class="N"/><circle cx="852" cy="409" r="8" class="N"/><circle cx="828" cy="409" r="8" class="P"/><circle cx="798" cy="420" r="8" class="N"/><circle cx="817" cy="420" r="8" class="N"/><circle cx="835" cy="420" r="8" class="N"/><circle cx="852" cy="424" r="8" class="Y"/><circle cx="810" cy="430" r="8" class="N"/><circle cx="829" cy="430" r="8" class="N"/>
<circle cx="878" cy="399" r="8" class="N"/><circle cx="896" cy="394" r="8" class="N"/><circle cx="906" cy="404" r="8" class="N"/><circle cx="869" cy="412" r="8" class="N"/><circle cx="888" cy="412" r="8" class="N"/><circle cx="915" cy="414" r="8" class="N"/><circle cx="879" cy="423" r="8" class="N r"/><circle cx="897" cy="424" r="8" class="N"/><circle cx="888" cy="438" r="8" class="N"/>
<circle cx="937" cy="404" r="8" class="N"/><circle cx="955" cy="399" r="8" class="N"/><circle cx="969" cy="410" r="8" class="N r"/><circle cx="933" cy="414" r="8" class="N"/><circle cx="951" cy="416" r="8" class="N r"/><circle cx="986" cy="420" r="8" class="N r"/><circle cx="933" cy="426" r="8" class="N r"/><circle cx="950" cy="433" r="8" class="N"/><circle cx="968" cy="425" r="8" class="N"/>
<circle cx="993" cy="399" r="8" class="N r"/><circle cx="1013" cy="412" r="8" class="N r"/><circle cx="1028" cy="424" r="8" class="N r"/><circle cx="1046" cy="430" r="8" class="N r"/><circle cx="1010" cy="435" r="8" class="N"/><circle cx="1028" cy="437" r="8" class="N"/><circle cx="1046" cy="443" r="8" class="N r"/><circle cx="1018" cy="449" r="8" class="N r"/><circle cx="1035" cy="453" r="8" class="N r"/>
<circle cx="1079" cy="403" r="8" class="P"/><circle cx="1081" cy="423" r="8" class="N"/><circle cx="1065" cy="433" r="8" class="N"/><circle cx="1100" cy="432" r="8" class="N"/><circle cx="1083" cy="442" r="8" class="N"/><circle cx="1064" cy="448" r="8" class="P"/><circle cx="1100" cy="452" r="8" class="N"/><circle cx="1080" cy="457" r="8" class="N"/><circle cx="1117" cy="440" r="8" class="T"/>
<circle cx="1143" cy="402" r="8" class="P"/><circle cx="1135" cy="413" r="8" class="N"/><circle cx="1153" cy="413" r="8" class="N"/><circle cx="1171" cy="423" r="8" class="P"/><circle cx="1135" cy="427" r="8" class="N"/><circle cx="1153" cy="425" r="8" class="N"/><circle cx="1135" cy="443" r="8" class="N"/><circle cx="1153" cy="436" r="8" class="N"/><circle cx="1172" cy="435" r="8" class="N"/>
<circle cx="1202" cy="399" r="8" class="N"/><circle cx="1220" cy="403" r="8" class="N"/><circle cx="1185" cy="409" r="8" class="N"/><circle cx="1207" cy="413" r="8" class="N"/><circle cx="1225" cy="413" r="8" class="N r"/><circle cx="1190" cy="421" r="8" class="N"/><circle cx="1222" cy="424" r="8" class="N"/><circle cx="1203" cy="430" r="8" class="N r"/>
<circle cx="1262" cy="399" r="8" class="N"/><circle cx="1244" cy="407" r="8" class="N"/><circle cx="1279" cy="405" r="8" class="N"/><circle cx="1263" cy="414" r="8" class="N"/><circle cx="1245" cy="418" r="8" class="N"/><circle cx="1282" cy="418" r="8" class="N"/><circle cx="1254" cy="428" r="8" class="N"/><circle cx="1272" cy="428" r="8" class="N"/>
</g>
<g id="cluster-row4">
<circle cx="764" cy="485" r="8" class="P"/><circle cx="783" cy="483" r="8" class="P"/><circle cx="768" cy="503" r="8" class="N"/><circle cx="787" cy="501" r="8" class="N r"/><circle cx="803" cy="517" r="8" class="N"/><circle cx="781" cy="522" r="8" class="N r"/>
<circle cx="829" cy="476" r="8" class="N r"/><circle cx="832" cy="497" r="8" class="N"/><circle cx="835" cy="522" r="8" class="N"/><circle cx="824" cy="536" r="8" class="N r"/><circle cx="850" cy="534" r="8" class="N r"/><circle cx="838" cy="548" r="8" class="N"/>
<circle cx="874" cy="474" r="8" class="P r"/><circle cx="865" cy="487" r="8" class="N"/><circle cx="893" cy="483" r="8" class="N"/><circle cx="874" cy="498" r="8" class="P"/><circle cx="893" cy="498" r="8" class="N"/>
<circle cx="926" cy="478" r="8" class="P"/><circle cx="948" cy="478" r="8" class="P"/><circle cx="915" cy="497" r="8" class="P"/><circle cx="937" cy="497" r="8" class="P"/>
<circle cx="986" cy="478" r="8" class="N"/><circle cx="969" cy="488" r="8" class="N"/><circle cx="998" cy="491" r="8" class="N"/><circle cx="981" cy="502" r="8" class="N"/>
<circle cx="1019" cy="478" r="8" class="N"/><circle cx="1041" cy="487" r="8" class="N"/><circle cx="1022" cy="498" r="8" class="N"/>
<circle cx="1063" cy="479" r="8" class="P"/><circle cx="1086" cy="483" r="8" class="P"/><circle cx="1071" cy="498" r="8" class="P"/>
<circle cx="1107" cy="481" r="8" class="P"/><circle cx="1127" cy="488" r="8" class="P"/><circle cx="1110" cy="502" r="8" class="P"/>
<circle cx="1150" cy="481" r="8" class="P"/><circle cx="1170" cy="489" r="8" class="P"/><circle cx="1152" cy="502" r="8" class="P"/>
<circle cx="1190" cy="481" r="8" class="M r"/><circle cx="1212" cy="483" r="8" class="P"/><circle cx="1198" cy="500" r="8" class="P"/>
<circle cx="1233" cy="477" r="8" class="T r"/><circle cx="1233" cy="498" r="8" class="T r"/>
<circle cx="1254" cy="477" r="8" class="T"/><circle cx="1254" cy="498" r="8" class="T"/>
<circle cx="1276" cy="477" r="8" class="P"/><circle cx="1276" cy="497" r="8" class="N"/>
</g>
<g id="cluster-pairs">
<circle cx="917" cy="536" r="8" class="P"/><circle cx="917" cy="557" r="8" class="P r"/>
<circle cx="937" cy="534" r="8" class="N"/><circle cx="938" cy="555" r="8" class="N r"/>
<circle cx="957" cy="532" r="8" class="P"/><circle cx="957" cy="553" r="8" class="P"/>
<circle cx="977" cy="530" r="8" class="T r"/><circle cx="978" cy="552" r="8" class="T"/>
<circle cx="998" cy="528" r="8" class="P"/><circle cx="998" cy="550" r="8" class="B r"/>
<circle cx="1018" cy="528" r="8" class="G"/><circle cx="1018" cy="550" r="8" class="Y"/>
<circle cx="1039" cy="528" r="8" class="T r"/><circle cx="1039" cy="549" r="8" class="T r"/>
<circle cx="1060" cy="528" r="8" class="P r"/><circle cx="1060" cy="550" r="8" class="N r"/>
<circle cx="1081" cy="529" r="8" class="P"/><circle cx="1081" cy="551" r="8" class="P"/>
<circle cx="1101" cy="529" r="8" class="N r"/><circle cx="1100" cy="552" r="8" class="Y r"/>
<circle cx="1122" cy="530" r="8" class="T"/><circle cx="1122" cy="552" r="8" class="T"/>
<circle cx="1142" cy="531" r="8" class="T r"/><circle cx="1142" cy="552" r="8" class="T r"/>
<circle cx="1163" cy="531" r="8" class="N r"/><circle cx="1163" cy="552" r="8" class="N r"/>
<circle cx="1183" cy="531" r="8" class="N"/><circle cx="1183" cy="552" r="8" class="N"/>
<circle cx="1204" cy="528" r="8" class="M r"/><circle cx="1204" cy="550" r="8" class="B r"/>
</g>

<g id="boxes">
<rect class="box" x="729" y="33" width="160" height="100"/>
<text class="bl" x="728" y="29">Napyradiomycin</text>
<rect class="box" x="967" y="50" width="151" height="139"/>
<text class="bl" x="966" y="47">Tetronomycin</text>
<rect class="box" x="1123" y="29" width="107" height="100"/>
<text class="bl" x="1121" y="25">Marinophenazine</text>
<rect class="box" x="1128" y="156" width="103" height="48"/>
<text class="bl" x="1127" y="152">Arsonopolyketide</text>
<rect class="box" x="802" y="204" width="121" height="68"/>
<text class="bl" x="801" y="200">Hopene</text>
<rect class="box" x="836" y="298" width="103" height="61"/>
<text class="bl" x="835" y="295">Actinofuranone</text>
<rect class="box" x="1009" y="518" width="19" height="45"/>
<text class="bl" x="1008" y="515">Scabichelin</text>
</g>
</svg>
